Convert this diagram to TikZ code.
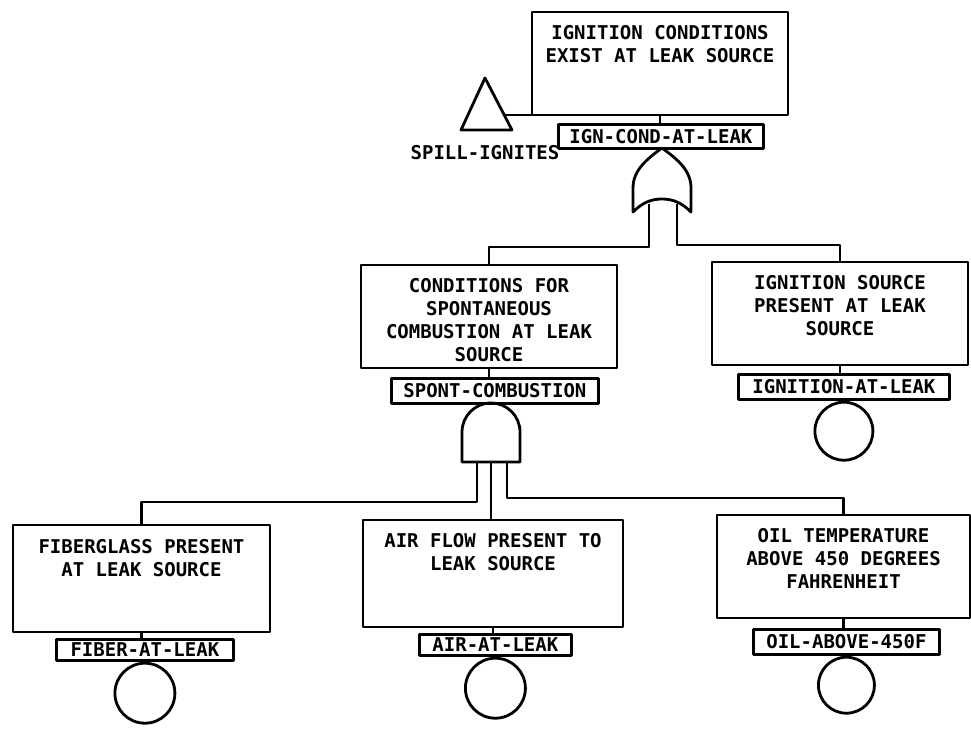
\documentclass[tikz,border=0pt]{standalone}
\usepackage{fontspec}
\setmonofont{DejaVu Sans Mono}
\usetikzlibrary{calc}
\begin{document}
\begin{tikzpicture}[x=1pt,y=-1pt,line width=2.8pt,line join=round,
  plotfont/.style={font=\ttfamily\bfseries\fontsize{19}{23}\selectfont},
  evbox/.style={draw,rectangle,inner sep=0pt,outer sep=0pt,anchor=north west},
  evtext/.style={plotfont,align=center,anchor=north,inner sep=0pt},
  tag/.style={draw,rectangle,inner sep=0pt,plotfont,anchor=north west},
  basic/.style={draw,circle,inner sep=0pt,anchor=north}]
\useasboundingbox (0,0) rectangle (971,730);

% top event
\node[evbox,minimum width=256pt,minimum height=103pt] (top) at (532,12) {};
\node[evtext] (topt) at ([yshift=-12pt]top.north) {IGNITION CONDITIONS\\EXIST AT LEAK SOURCE};
\node[tag,minimum width=205pt,minimum height=24pt] (topg) at (557,123) {IGN-COND-AT-LEAK};
\draw (top.south) -- (top.south |- topg.north);

% transfer triangle
\draw (461,130) -- (485,78) -- (512,130) -- cycle;
\coordinate (triR) at (504,115);
\draw (triR) -- (top.south west);
\node[plotfont,inner sep=0pt] (spill) at (485,153) {SPILL-IGNITES};

% OR gate
\draw (662,148) .. controls (647,159) and (633,170) .. (633,188) -- (633,212)
  .. controls (643,202) and (652,199) .. (662,199)
  .. controls (672,199) and (681,202) .. (691,212) -- (691,188)
  .. controls (691,170) and (677,159) .. (662,148) -- cycle;
\coordinate (orL) at (649,204);
\coordinate (orR) at (677,204);

% second level
\node[evbox,minimum width=256pt,minimum height=103pt] (mid1) at (361,265) {};
\node[evtext] (mid1t) at ([yshift=-12pt]mid1.north) {CONDITIONS FOR\\SPONTANEOUS\\COMBUSTION AT LEAK\\SOURCE};
\node[tag,minimum width=207pt,minimum height=25pt] (spont) at (390,377) {SPONT-COMBUSTION};
\draw (mid1.south) -- (mid1.south |- spont.north);

\node[evbox,minimum width=256pt,minimum height=103pt] (rt1) at (712,262) {};
\node[evtext] (rt1t) at ([yshift=-12pt]rt1.north) {IGNITION SOURCE\\PRESENT AT LEAK\\SOURCE};
\node[tag,minimum width=211pt,minimum height=25pt] (ignt) at (737,373) {IGNITION-AT-LEAK};
\draw (rt1.south) -- (rt1.south |- ignt.north);
\node[basic,minimum size=58pt] (c1) at (ignt.south) {};

\draw (orL) -- ++(0,43) -| (mid1.north);
\draw (orR) -- ++(0,41) -| (rt1.north);

% AND gate
\draw (462,462) -- (462,432) arc[start angle=180,end angle=0,radius=29pt] -- (520,462) -- cycle;
\coordinate (andL) at (477,462);
\coordinate (andM) at (491,462);
\coordinate (andR) at (507,462);

% basic events
\node[evbox,minimum width=257pt,minimum height=107pt] (lf) at (13,525) {};
\node[evtext] (lft) at ([yshift=-13pt]lf.north) {FIBERGLASS PRESENT\\AT LEAK SOURCE};
\node[tag,minimum width=177pt,minimum height=21pt] (fiber) at (55,638) {FIBER-AT-LEAK};
\draw (lf.south) -- (lf.south |- fiber.north);
\node[basic,minimum size=60pt] (c2) at (fiber.south) {};

\node[evbox,minimum width=260pt,minimum height=107pt] (mf) at (363,520) {};
\node[evtext] (mft) at ([yshift=-12pt]mf.north) {AIR FLOW PRESENT TO\\LEAK SOURCE};
\node[tag,minimum width=152pt,minimum height=21pt] (air) at (418,633) {AIR-AT-LEAK};
\draw (mf.south) -- (mf.south |- air.north);
\node[basic,minimum size=60pt] (c3) at (air.south) {};

\node[evbox,minimum width=253pt,minimum height=103pt] (rf) at (717,515) {};
\node[evtext] (rft) at ([yshift=-12pt]rf.north) {OIL TEMPERATURE\\ABOVE 450 DEGREES\\FAHRENHEIT};
\node[tag,minimum width=186pt,minimum height=25pt] (oil) at (752,628) {OIL-ABOVE-450F};
\draw (rf.south) -- (rf.south |- oil.north);
\node[basic,minimum size=56pt] (c4) at (oil.south) {};

\draw (andL) -- ++(0,40) -| (lf.north);
\draw (andM) -- (andM |- mf.north);
\draw (andR) -- ++(0,36) -| (rf.north);
\end{tikzpicture}
\end{document}
